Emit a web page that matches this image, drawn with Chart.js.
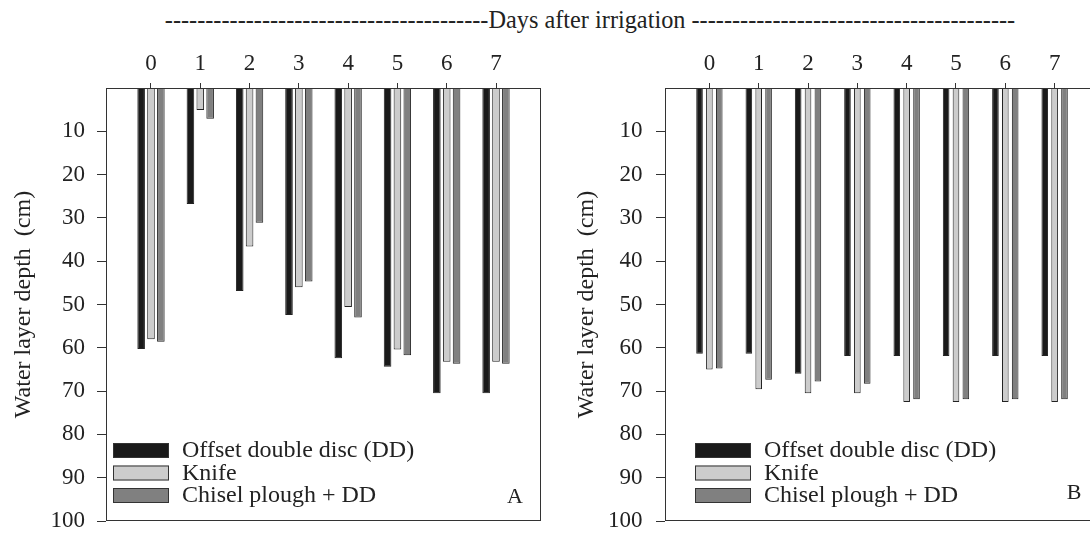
<!DOCTYPE html>
<html>
<head>
<meta charset="utf-8">
<title>Water layer depth</title>
<script src="https://cdn.jsdelivr.net/npm/chart.js@4.4.0/dist/chart.umd.min.js"></script>
<style>
    body{margin:0;width:1090px;height:538px;overflow:hidden;background:#fff;position:relative;font-family:"Liberation Serif","Times New Roman",serif;}
    .titulo{position:absolute;top:6px;left:0;width:1180px;text-align:center;font-size:24.3px;line-height:28px;color:#222;white-space:nowrap;}
    .panel{position:absolute;top:0;width:560px;height:538px;}
    #panelA{left:0;}
    #panelB{left:560px;}
</style>
</head>
<body>
<div class="titulo">----------------------------------------Days after irrigation ----------------------------------------</div>
<div class="panel" id="panelA"><canvas id="graficaA" width="560" height="538"></canvas></div>
<div class="panel" id="panelB"><canvas id="graficaB" width="560" height="538"></canvas></div>
<script>
var dias = [0, 1, 2, 3, 4, 5, 6, 7];
var etiquetas = ['Offset double disc (DD)', 'Knife', 'Chisel plough + DD'];
var colores = ['#1a1a1a', '#cccccc', '#808080'];

// panel A
var ddA     = [60.3, 26.8, 46.9, 52.4, 62.4, 64.4, 70.5, 70.5];
var knifeA  = [58.0, 5.1, 36.6, 46.0, 50.6, 60.4, 63.2, 63.2];
var chiselA = [58.6, 7.1, 31.1, 44.7, 53.0, 61.7, 63.7, 63.7];
// panel B
var ddB     = [61.4, 61.4, 66.0, 61.9, 61.9, 61.9, 61.9, 61.9];
var knifeB  = [65.0, 69.6, 70.5, 70.5, 72.5, 72.5, 72.5, 72.5];
var chiselB = [64.8, 67.4, 67.8, 68.3, 71.9, 71.9, 71.9, 71.9];

var fuente = 'Liberation Serif';

function puntos(valores){
    return dias.map(function(d, i){
        return {x: d, y: valores[i]};
    });
}

// marco completo, leyenda dentro del area y letra del panel
var marcoLeyenda = {
    id: 'marcoLeyenda',
    afterDraw: function(chart, args, opts){
        var ctx = chart.ctx;
        var area = chart.chartArea;
        ctx.save();
        ctx.strokeStyle = '#333';
        ctx.lineWidth = 1;
        ctx.strokeRect(area.left + 0.5, area.top + 0.5, area.right - area.left - 1, area.bottom - area.top - 1);
        ctx.font = '24px "' + fuente + '"';
        ctx.textBaseline = 'middle';
        ctx.textAlign = 'left';
        chart.data.datasets.forEach(function(ds, i){
            var x = area.left + opts.leyendaX;
            var y = area.bottom - 78 + i * 22.5;
            ctx.fillStyle = ds.backgroundColor;
            ctx.fillRect(x, y, 56, 15);
            ctx.strokeStyle = '#333';
            ctx.strokeRect(x + 0.5, y + 0.5, 55, 14);
            ctx.fillStyle = '#222';
            ctx.fillText(ds.label, x + 69, y + 8);
        });
        ctx.textAlign = 'center';
        ctx.font = '22px "' + fuente + '"';
        ctx.fillText(opts.letra, area.right - 26, area.bottom - opts.letraY);
        ctx.restore();
    }
};

function Graficar(info){
    var series = [info.dd, info.knife, info.chisel];
    var datasets = series.map(function(valores, i){
        return {
            label: etiquetas[i],
            data: puntos(valores),
            backgroundColor: colores[i],
            borderColor: '#222',
            borderWidth: 1,
            categoryPercentage: 0.6,
            barPercentage: info.barra
        };
    });
    var canvas = document.getElementById(info.id).getContext('2d');
    return new Chart(canvas, {
        type: 'bar',
        data: {datasets: datasets},
        plugins: [marcoLeyenda],
        options: {
            responsive: false,
            animation: false,
            devicePixelRatio: 1,
            layout: {padding: {left: 0, top: 0, right: info.derecha, bottom: 17}},
            plugins: {
                legend: {display: false},
                tooltip: {enabled: false},
                marcoLeyenda: {leyendaX: info.leyendaX, letra: info.letra, letraY: info.letraY}
            },
            scales: {
                x: {
                    type: 'linear',
                    position: 'top',
                    min: info.xmin,
                    max: info.xmax,
                    offset: false,
                    afterBuildTicks: function(s){
                        s.ticks = dias.map(function(d){ return {value: d}; });
                    },
                    afterFit: function(s){
                        s.height = 88;
                        s.paddingLeft = 0;
                        s.paddingRight = 0;
                    },
                    grid: {drawOnChartArea: false, offset: false, tickLength: 5, tickColor: '#333'},
                    border: {display: false},
                    ticks: {color: '#222', font: {family: fuente, size: 23}, padding: 5, maxRotation: 0}
                },
                y: {
                    reverse: true,
                    min: 0,
                    max: 100,
                    afterFit: function(s){
                        s.width = info.anchoY;
                        s.paddingTop = 0;
                        s.paddingBottom = 0;
                    },
                    grid: {
                        drawOnChartArea: false,
                        tickLength: 9,
                        tickColor: function(c){ return c.tick && c.tick.value === 0 ? 'rgba(0,0,0,0)' : '#333'; }
                    },
                    border: {display: false},
                    ticks: {
                        stepSize: 10,
                        padding: info.padTicks,
                        color: '#222',
                        font: {family: fuente, size: 23},
                        callback: function(v){ return v === 0 ? '' : v; }
                    },
                    title: {
                        display: true,
                        text: 'Water layer depth  (cm)',
                        color: '#222',
                        font: {family: fuente, size: 24, lineHeight: 1},
                        padding: {top: info.padTitulo, bottom: 0}
                    }
                }
            }
        }
    });
}

Graficar({
    id: 'graficaA', dd: ddA, knife: knifeA, chisel: chiselA,
    xmin: -0.913, xmax: 7.913, anchoY: 106, derecha: 19,
    barra: 0.77, padTicks: 12, padTitulo: 12,
    leyendaX: 7, letra: 'A', letraY: 24
});
Graficar({
    id: 'graficaB', dd: ddB, knife: knifeB, chisel: chiselB,
    xmin: -0.9, xmax: 7.92, anchoY: 105, derecha: 20,
    barra: 0.67, padTicks: 13.5, padTitulo: 15,
    leyendaX: 30, letra: 'B', letraY: 28
});
</script>
</body>
</html>
